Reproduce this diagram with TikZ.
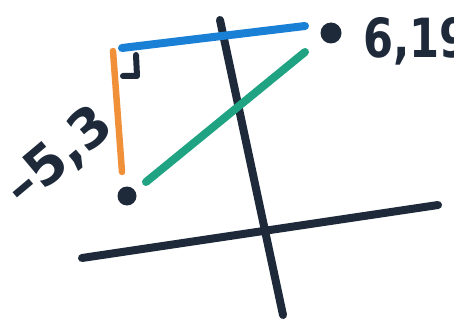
\documentclass[tikz,border=0pt]{standalone}
\usepackage{fontspec}
\setmainfont{DejaVu Sans}
\definecolor{ink}{HTML}{1E2A3A}
\definecolor{blueline}{HTML}{1A80D6}
\definecolor{orangeline}{HTML}{F0913A}
\definecolor{greenline}{HTML}{20A382}
\begin{document}
\begin{tikzpicture}[x=1pt,y=-1pt,line cap=round,
  axis/.style={ink,line width=8pt},
  pen/.style={line width=8pt},
  dot/.style={circle,fill=ink,inner sep=0pt,minimum size=19pt},
  lbl/.style={ink,font=\fontsize{54}{54}\selectfont\bfseries,inner sep=0pt}]
\useasboundingbox (0,0) rectangle (454,323);
\draw[axis] (220,20) -- (283,315);
\draw[axis] (82,258) -- (438,205);
\draw[pen,blueline] (122,48) -- (305,26);
\draw[pen,orangeline,line width=6.5pt] (113,51) -- (122,172);
\draw[pen,greenline] (146,182) -- (305,52);
\draw[ink,line width=6pt,line join=round] (123,76) -- (137,76) -- (136,55);
\node[dot] (lowpt) at (127,196) {};
\node[dot,minimum size=21pt] (highpt) at (331,33) {};
\node[lbl,rotate=40] (lowlbl) at (59,157) {–5,3};
\node[lbl,anchor=west,xscale=0.8] (highlbl) at (363,41) {6,19};
\end{tikzpicture}
\end{document}
